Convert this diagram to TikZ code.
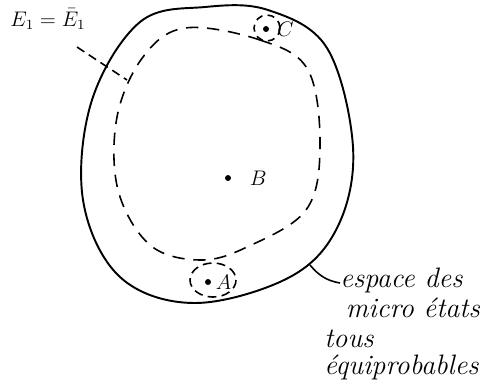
\documentclass[tikz,border=0pt]{standalone}
\usepackage{amsmath}
\usepackage{tikz}
\usetikzlibrary{positioning, calc}

\begin{document}
\begin{tikzpicture}[
    x=0.02cm, y=-0.02cm,
    frontiere/.style={
        line width=1.1pt
    },
    couche/.style={
        dashed,
        dash pattern=on 7pt off 5pt,
        line width=0.9pt
    },
    etat/.style={
        circle,
        fill=black,
        inner sep=1.2pt
    },
    etiquette/.style={
        font=\large
    },
    legende/.style={
        align=left,
        font=\fontsize{16pt}{17pt}\selectfont\itshape,
        inner sep=0pt
    }
]
\useasboundingbox (0,0) rectangle (486,387);

% espace des microetats
\draw[frontiere] plot[smooth cycle, tension=0.6] coordinates {
    (205,7) (268,10) (327,48) (353,147) (338,226) (290,277)
    (195,303) (120,277) (83,200) (92,100) (140,22)};

% surface E1 = E1 barre
\draw[couche] plot[smooth cycle, tension=0.6] coordinates {
    (185,28) (260,40) (308,70) (320,147) (306,210) (247,247)
    (200,260) (150,245) (118,190) (117,117) (143,57)};

% voisinages de A et C
\draw[couche, dash pattern=on 4pt off 3pt] (267,28) circle (13);
\draw[couche, dash pattern=on 5pt off 3pt] (213,280) ellipse (23 and 17);

\node[etat] (a) at (208,282) {};
\node[etiquette, right=-1pt of a] {$A$};
\node[etat] (b) at (228,178) {};
\node[etiquette, right=7pt of b] {$B$};
\node[etat] (c) at (266,29) {};
\node[etiquette, right=1pt of c] {$C$};

\node[etiquette] (energie) at (48,19) {$E_1=\bar{E}_1$};
\coordinate (bord) at (127,80);
\draw[couche, dash pattern=on 5pt off 3pt] (77,47) -- (bord);

\node[legende, anchor=north west] (espace) at (340,268) {%
    espace des\\
    \hspace*{0.2em}micro \'etats};
\node[legende, anchor=north west] (tous) at (324,330) {%
    tous\\[-2pt]
    \'equiprobables};
\coordinate (pied) at (310,265);
\draw[frontiere, line width=0.9pt] (pied) to[out=-50, in=170] (espace.west |- 0,283);

\end{tikzpicture}
\end{document}
